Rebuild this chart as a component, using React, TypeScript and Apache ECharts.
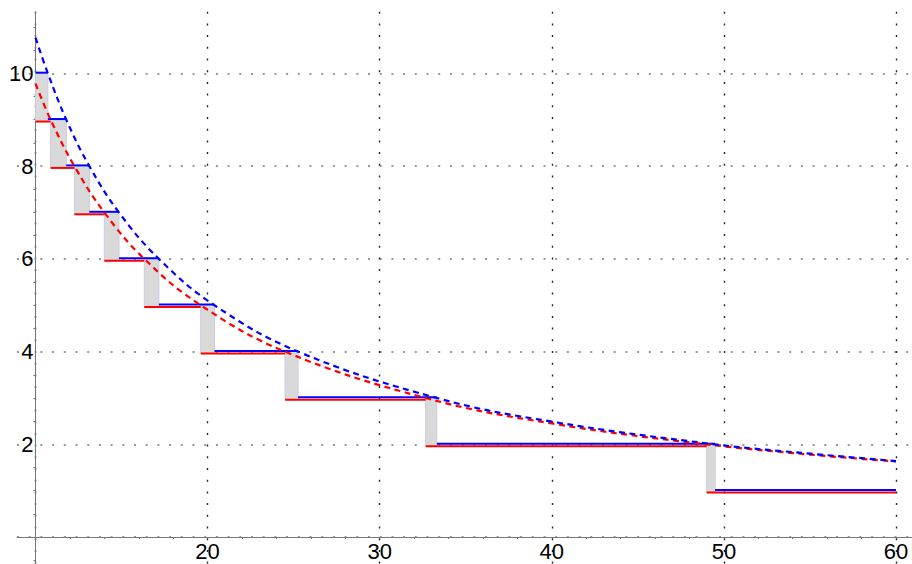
import React, { useEffect, useRef } from "react";
import * as echarts from "echarts";

// Step levels (integers) and the x positions where each level ends
const blueLevels = [10, 9, 8, 7, 6, 5, 4, 3, 2, 1];
const blueBreaks = [10, 10.72, 11.79, 13.13, 14.85, 17.17, 20.4, 25.26, 33.32, 49.49, 60];
const redLevels = [9, 8, 7, 6, 5, 4, 3, 2, 1];
const redBreaks = [10, 10.88, 12.26, 14.0, 16.32, 19.6, 24.5, 32.67, 49.0, 60];

// Dashed curves
const blueCurveX = [10, 10.72, 11.79, 13.13, 14.85, 17.17, 20.4, 25.26, 33.32, 40, 49.49, 55, 60];
const blueCurveY = [10.77, 10, 9, 8, 7, 6, 5, 4, 3, 2.49, 2, 1.8, 1.64];
const redCurveX = [10, 10.88, 12.26, 14.0, 16.32, 19.6, 24.5, 32.67, 40, 49.0, 55, 60];
const redCurveY = [9.78, 9, 8, 7, 6, 5, 4, 3, 2.45, 2, 1.78, 1.63];

const X_RANGE = [8.925, 60.93];
const Y_RANGE = [-0.58, 11.33];

const BLUE = "#0000ff";
const RED = "#ff0000";
const BLUE_OFF = -0.7;
const RED_OFF = 1.8;
const FONT = "'Liberation Sans', Arial, sans-serif";

export default function App() {
  const ref = useRef<HTMLDivElement>(null);
  useEffect(() => {
    document.body.style.margin = "0";
    if (!ref.current) return;
    const chart = echarts.init(ref.current, undefined, { renderer: "svg" });

    const blueSegs = blueLevels.map((k, i) => [blueBreaks[i], blueBreaks[i + 1], k]);
    const redSegs = redLevels.map((k, i) => [redBreaks[i], redBreaks[i + 1], k]);
    const rects: number[][] = [];
    blueLevels.forEach((k, i) => {
      const x0 = redBreaks[10 - k];
      const x1 = blueBreaks[i + 1];
      if (x1 > x0) rects.push([x0, x1, k - 1, k]);
    });

    const segRender = (color: string, off: number) => (params: any, api: any) => {
      const p0 = api.coord([api.value(0), api.value(2)]);
      const p1 = api.coord([api.value(1), api.value(2)]);
      return {
        type: "line",
        shape: { x1: p0[0], y1: p0[1] + off, x2: p1[0], y2: p1[1] + off },
        style: { stroke: color, lineWidth: 2 },
      };
    };

    chart.setOption({
      animation: false,
      grid: { left: 17, right: 0, top: 11.7, bottom: 0, containLabel: false, outerBoundsMode: "none" },
      xAxis: {
        type: "value",
        position: "bottom",
        min: X_RANGE[0],
        max: X_RANGE[1],
        splitNumber: 5,
        minInterval: 10,
        maxInterval: 10,
        offset: -27,
        axisLine: { onZero: false, lineStyle: { color: "#777", width: 1 } },
        axisTick: { show: false },
        minorTick: { show: true, splitNumber: 5, length: 2, lineStyle: { color: "#777" } },
        axisLabel: {
          showMinLabel: false,
          showMaxLabel: false,
          margin: 3,
          fontSize: 22,
          fontFamily: FONT,
          color: "#000",
          formatter: (v: number) => (Number.isInteger(v) && v !== 10 ? String(v) : ""),
        },
        splitLine: { show: true, showMinLine: false, showMaxLine: false, lineStyle: { color: "#222", width: 1.4, type: [2, 9.7] } },
        minorSplitLine: { show: false },
      },
      yAxis: {
        type: "value",
        min: Y_RANGE[0],
        max: Y_RANGE[1],
        splitNumber: 5,
        minInterval: 2,
        maxInterval: 2,
        offset: -18.5,
        axisLine: { onZero: false, lineStyle: { color: "#777", width: 1 } },
        axisTick: { show: false },
        minorTick: { show: true, splitNumber: 4, length: 2, lineStyle: { color: "#777" } },
        axisLabel: {
          showMinLabel: false,
          showMaxLabel: false,
          margin: 2,
          fontSize: 22,
          fontFamily: FONT,
          color: "#000",
          formatter: (v: number) => (Number.isInteger(v) && v !== 0 ? String(v) : ""),
        },
        splitLine: { show: true, showMinLine: false, showMaxLine: false, lineStyle: { color: "#777", width: 1.6, type: [2, 9.7] } },
      },
      series: [
        {
          type: "custom",
          data: rects,
          encode: { x: [0, 1], y: [2, 3] },
          renderItem: (params: any, api: any) => {
            const p0 = api.coord([api.value(0), api.value(3)]);
            const p1 = api.coord([api.value(1), api.value(2)]);
            const top = p0[1] + BLUE_OFF;
            const bottom = p1[1] + RED_OFF;
            return {
              type: "rect",
              shape: { x: p0[0], y: top, width: p1[0] - p0[0], height: bottom - top },
              style: { fill: "#d9d9d9", stroke: "#cbcbe0", lineWidth: 1 },
            };
          },
          z: 1,
        },
        { type: "custom", data: redSegs, encode: { x: [0, 1], y: 2 }, renderItem: segRender(RED, RED_OFF), z: 2 },
        { type: "custom", data: blueSegs, encode: { x: [0, 1], y: 2 }, renderItem: segRender(BLUE, BLUE_OFF), z: 3 },
        {
          type: "line",
          data: redCurveX.map((x, i) => [x, redCurveY[i]]),
          smooth: 0.4,
          showSymbol: false,
          lineStyle: { color: RED, width: 2.2, type: [6, 4.5] },
          z: 4,
        },
        {
          type: "line",
          data: blueCurveX.map((x, i) => [x, blueCurveY[i]]),
          smooth: 0.4,
          showSymbol: false,
          lineStyle: { color: BLUE, width: 2.2, type: [6, 4.5] },
          z: 5,
        },
      ],
    });
    return () => chart.dispose();
  }, []);
  return <div ref={ref} style={{ width: 912, height: 564 }} />;
}
